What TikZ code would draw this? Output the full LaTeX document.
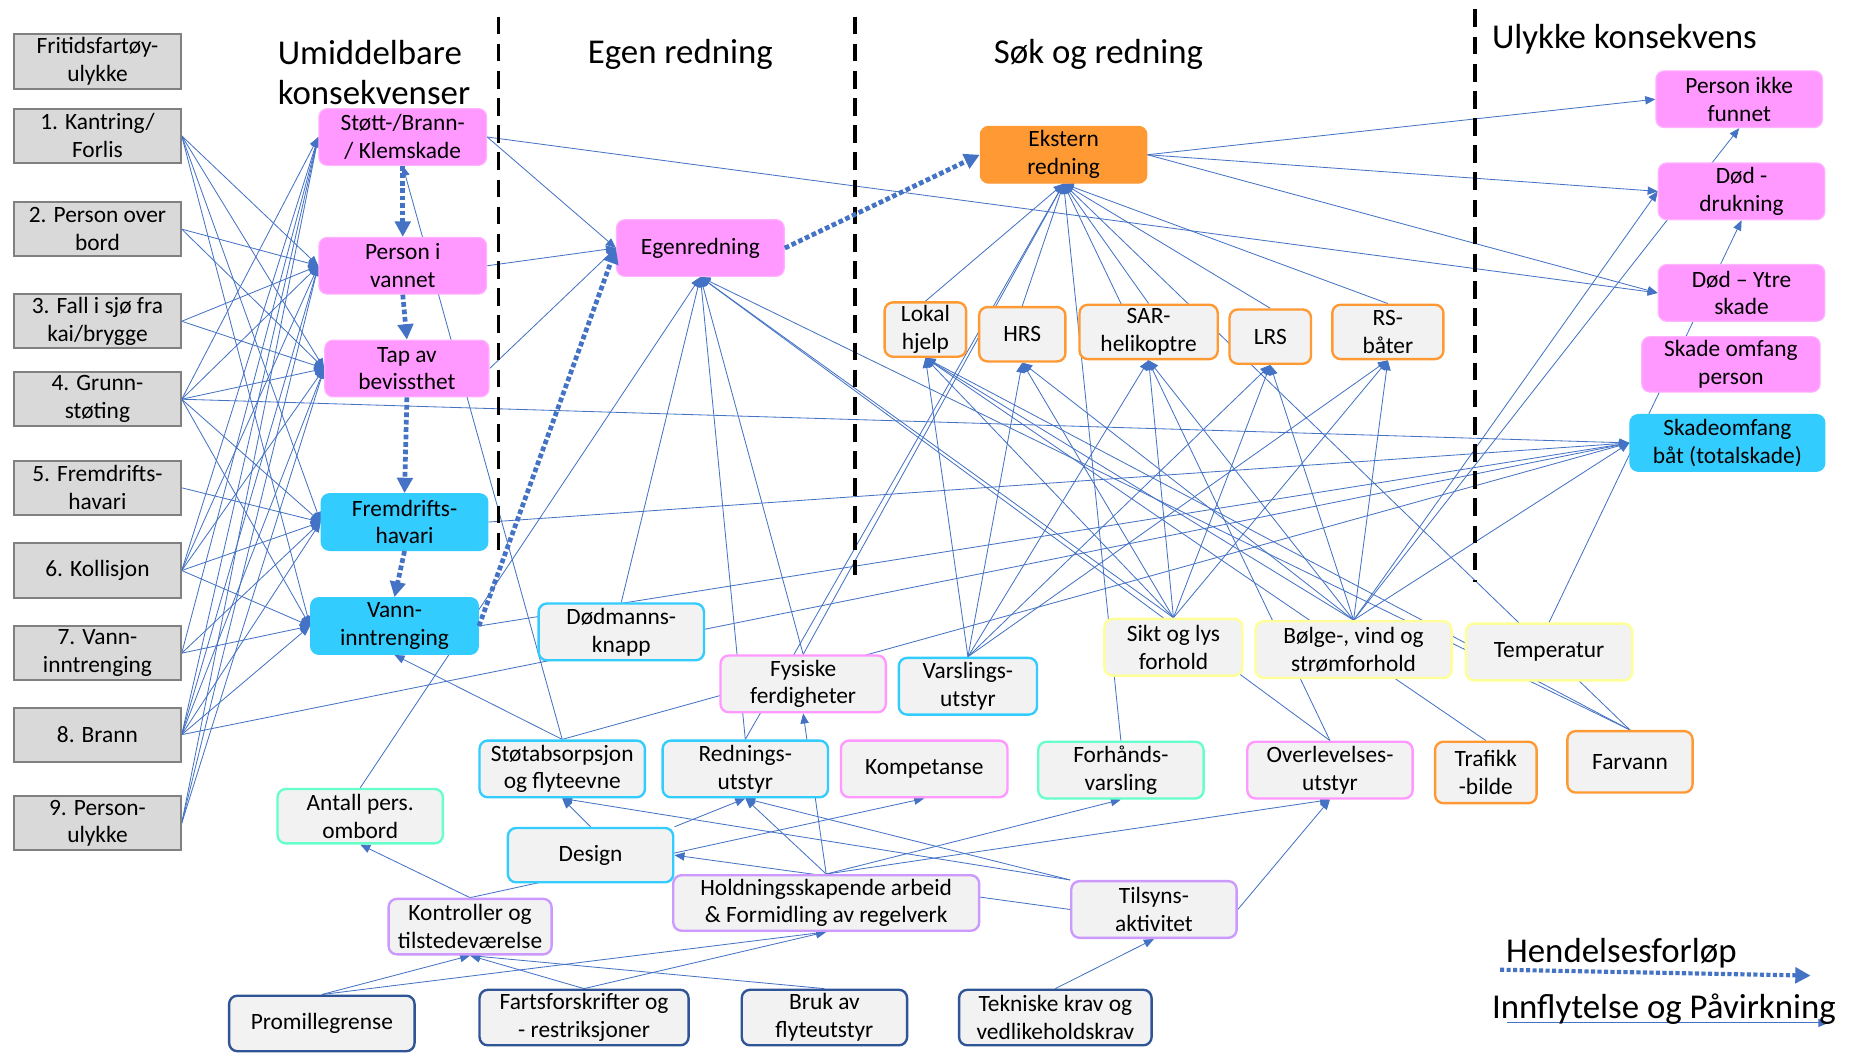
\documentclass[tikz,border=0pt]{standalone}
\usepackage{fontspec}
\setmainfont{Carlito}
\usetikzlibrary{arrows.meta}

\definecolor{linkc}{HTML}{4472C4}
\definecolor{pinkc}{HTML}{FF99FF}
\definecolor{cyanc}{HTML}{33CCFF}
\definecolor{orangec}{HTML}{FF9933}
\definecolor{liteg}{HTML}{F2F2F2}
\definecolor{greyf}{HTML}{D9D9D9}
\definecolor{greyd}{HTML}{808080}
\definecolor{yellowc}{HTML}{FFFF99}
\definecolor{greenc}{HTML}{66FFCC}
\definecolor{purplec}{HTML}{CC99FF}
\definecolor{navyc}{HTML}{2F5597}

\pgfdeclarelayer{back}
\pgfdeclarelayer{links}
\pgfsetlayers{back,links,main}

\begin{document}
\begin{tikzpicture}[x=1pt,y=-1pt,
  base/.style={rounded corners=7pt, align=center, inner sep=0pt, text=black,
    font=\fontsize{19.8}{23.5}\selectfont},
  grey/.style={base, rounded corners=0pt, fill=greyf, draw=greyd, line width=1.7pt},
  pinkbox/.style={base, fill=pinkc, draw=pinkc!75!white, line width=1pt},
  cyanbox/.style={base, fill=cyanc, draw=cyanc, line width=1pt},
  orangebox/.style={base, fill=orangec, draw=orangec, line width=1pt},
  lite/.style={base, fill=liteg, line width=2pt},
  obox/.style={lite, draw=orangec},
  cline/.style={lite, draw=cyanc},
  pline/.style={lite, draw=pinkc},
  yline/.style={lite, draw=yellowc},
  gline/.style={lite, draw=greenc},
  uline/.style={lite, draw=purplec},
  nline/.style={lite, draw=navyc},
  heading/.style={inner sep=0pt, font=\fontsize{29.5}{34}\selectfont},
  lk/.style={draw=linkc, line width=0.7pt, -{Triangle[length=8.5pt,width=7pt]}},
  ev/.style={draw=linkc, line width=4pt, dash pattern=on 4pt off 2.3pt,
    -{Triangle[length=13pt,width=13pt]}},
  sep/.style={draw=black, line width=3pt, dash pattern=on 15pt off 8pt}]

\useasboundingbox (0,0) rectangle (1568,892);
\begin{pgfonlayer}{back}
  \fill[white] (0,0) rectangle (1568,892);
\end{pgfonlayer}

% column headings
\node[heading, anchor=north west, align=left] (hd1) at (235,34) {Umiddelbare\\konsekvenser};
\node[heading, anchor=base] (hd2) at (576,54) {Egen redning};
\node[heading, anchor=base] (hd3) at (930,54) {Søk og redning};
\node[heading, anchor=base west] (hd4) at (1263,41) {Ulykke konsekvens};

% phase separators
\draw[sep] (422,14) -- (422,470);
\draw[sep] (724,14) -- (724,487);
\draw[sep] (1249,8) -- (1249,493);

% accident types
\node[grey, minimum width=141pt, minimum height=46pt] (f0) at (82.5,52) {Fritidsfartøy-\\ulykke};
\node[grey, minimum width=141pt, minimum height=46pt] (k1) at (82.5,115) {1. Kantring/\\Forlis};
\node[grey, minimum width=141pt, minimum height=46pt] (k2) at (82.5,194) {2. Person over\\bord};
\node[grey, minimum width=141pt, minimum height=46pt] (k3) at (82.5,272) {3. Fall i sjø fra\\kai/brygge};
\node[grey, minimum width=141pt, minimum height=46pt] (k4) at (82.5,338) {4. Grunn-\\støting};
\node[grey, minimum width=141pt, minimum height=46pt] (k5) at (82.5,413) {5. Fremdrifts-\\havari};
\node[grey, minimum width=141pt, minimum height=46pt] (k6) at (82.5,483) {6. Kollisjon};
\node[grey, minimum width=141pt, minimum height=46pt] (k7) at (82.5,553) {7. Vann-\\inntrenging};
\node[grey, minimum width=141pt, minimum height=46pt] (k8) at (82.5,622) {8. Brann};
\node[grey, minimum width=141pt, minimum height=46pt] (k9) at (82.5,697) {9. Person-\\ulykke};

% immediate consequences
\node[pinkbox, minimum width=142pt, minimum height=48pt] (s1) at (341,116) {Støtt-/Brann-\\/ Klemskade};
\node[pinkbox, minimum width=142pt, minimum height=48pt] (s2) at (341,225) {Person i\\vannet};
\node[pinkbox, minimum width=139pt, minimum height=48pt] (s3) at (344.5,312) {Tap av\\bevissthet};
\node[cyanbox, minimum width=141pt, minimum height=48pt] (s4) at (342.5,442) {Fremdrifts-\\havari};
\node[cyanbox, minimum width=142pt, minimum height=48pt] (s5) at (334,530) {Vann-\\inntrenging};

% rescue
\node[pinkbox, minimum width=142pt, minimum height=48pt] (eg) at (593,210) {Egenredning};
\node[orangebox, minimum width=141pt, minimum height=48pt] (ex) at (900.5,131) {Ekstern\\redning};
\node[obox, minimum width=69pt, minimum height=46pt] (lh) at (783.5,279) {Lokal\\hjelp};
\node[obox, minimum width=73pt, minimum height=46pt] (hrs) at (865.5,283) {HRS};
\node[obox, minimum width=117pt, minimum height=46pt] (sar) at (972.5,281) {SAR-\\helikoptre};
\node[obox, minimum width=69pt, minimum height=46pt] (lrs) at (1075.5,285) {LRS};
\node[obox, minimum width=94pt, minimum height=46pt] (rs) at (1175,281) {RS-\\båter};

% outcomes
\node[pinkbox, minimum width=141pt, minimum height=48pt] (pf) at (1472.5,84) {Person ikke\\funnet};
\node[pinkbox, minimum width=141pt, minimum height=48pt] (dd) at (1474.5,162) {Død -\\drukning};
\node[pinkbox, minimum width=141pt, minimum height=48pt] (dy) at (1474.5,248) {Død – Ytre\\skade};
\node[pinkbox, minimum width=151pt, minimum height=47pt] (sp) at (1465.5,308.5) {Skade omfang\\person};
\node[cyanbox, minimum width=165pt, minimum height=48pt] (sb) at (1462.5,375) {Skadeomfang\\båt (totalskade)};

% influencing factors
\node[cline, minimum width=140pt, minimum height=48pt] (dm) at (526,535) {Dødmanns-\\knapp};
\node[pline, minimum width=140pt, minimum height=48pt] (fy) at (680,579) {Fysiske\\ferdigheter};
\node[cline, minimum width=117pt, minimum height=48pt] (va) at (819.5,581) {Varslings-\\utstyr};
\node[yline, minimum width=117pt, minimum height=48pt] (si) at (993.5,548) {Sikt og lys\\forhold};
\node[yline, minimum width=166pt, minimum height=48pt] (bo) at (1146,550) {Bølge-, vind og\\strømforhold};
\node[yline, minimum width=141pt, minimum height=48pt] (te) at (1311.5,552) {Temperatur};
\node[cline, minimum width=140pt, minimum height=48pt] (st) at (476,651) {Støtabsorpsjon\\og flyteevne};
\node[cline, minimum width=140pt, minimum height=48pt] (re) at (631,651) {Rednings-\\utstyr};
\node[pline, minimum width=141pt, minimum height=48pt] (ko) at (782.5,651) {Kompetanse};
\node[gline, minimum width=140pt, minimum height=48pt] (fo) at (949,652) {Forhånds-\\varsling};
\node[pline, minimum width=140pt, minimum height=48pt] (ov) at (1126,652) {Overlevelses-\\utstyr};
\node[obox, minimum width=86pt, minimum height=52pt] (tr) at (1258,654) {Trafikk\\-bilde};
\node[obox, minimum width=106pt, minimum height=52pt] (fa) at (1380,645) {Farvann};
\node[gline, minimum width=140pt, minimum height=46pt] (an) at (305,691) {Antall pers.\\ombord};
\node[cline, minimum width=140pt, minimum height=46pt] (de) at (500,724) {Design};
\node[uline, minimum width=259pt, minimum height=47pt] (ho) at (699.5,764.5) {Holdningsskapende arbeid\\\& Formidling av regelverk};
\node[uline, minimum width=140pt, minimum height=48pt] (ti) at (977,770) {Tilsyns-\\aktivitet};
\node[uline, minimum width=138pt, minimum height=47pt] (kt) at (398,784.5) {Kontroller og\\tilstedeværelse};
\node[nline, minimum width=157pt, minimum height=47pt] (pr) at (272.5,866.5) {Promillegrense};
\node[nline, minimum width=177pt, minimum height=47pt] (fa2) at (494.5,861.5) {Fartsforskrifter og\\- restriksjoner};
\node[nline, minimum width=140pt, minimum height=47pt] (br) at (698,861.5) {Bruk av\\flyteutstyr};
\node[nline, minimum width=163pt, minimum height=47pt] (tk) at (893.5,861.5) {Tekniske krav og\\vedlikeholdskrav};

% influence links, drawn beneath the boxes
\begin{pgfonlayer}{links}
  \foreach \a/\b in {
    k1.east/s2.west, k1.east/s3.west, k1.east/s4.west, k1.east/s5.west,
    k2.east/s2.west, k2.east/s3.west,
    k3.east/s2.west, k3.east/s3.west,
    k4.east/s1.west, k4.east/s2.west, k4.east/s3.west, k4.east/s4.west, k4.east/s5.west, k4.east/sb.west,
    k5.east/s4.west,
    k6.east/s1.west, k6.east/s2.west, k6.east/s3.west, k6.east/s4.west, k6.east/s5.west,
    k7.east/s1.west, k7.east/s4.west, k7.east/s5.west,
    k8.east/s1.west, k8.east/s2.west, k8.east/s3.west, k8.east/s4.west, k8.east/s5.west, k8.east/sb.west,
    k9.east/s1.west, k9.east/s2.west, k9.east/s3.west,
    s1.east/eg.west, s2.east/eg.west, s3.east/eg.west, s1.east/dy.west,
    s4.east/sb.west, s5.east/sb.west,
    st.north/s1.south, st.north/s5.south, st.north/sb.west,
    dm.north/eg.south, an.north/eg.south, re.north/eg.south, fy.north/eg.south,
    si.north/eg.south, ov.north/eg.south, fa.north/eg.south,
    re.north/ex.south, fy.north/ex.south, fo.north/ex.south, ov.north/ex.south, fa.north/ex.south,
    lh.north/ex.south, hrs.north/ex.south, sar.north/ex.south, lrs.north/ex.south, rs.north/ex.south,
    tr.north/lh.south, fa.north/lh.south,
    ex.east/pf.west, ex.east/dd.west, ex.east/dy.west,
    bo.north/dd.west, bo.north/pf.south, bo.north/sb.west, te.north/dd.south,
    de.north/st.south, de.north east/re.south, ti.north west/st.south, ti.north west/re.south,
    ti.west/de.east, ho.north/re.south, ho.north/fy.south, ho.north/fo.south, ho.north/ov.south,
    ti.east/ov.south, kt.north/an.south, kt.north/ko.south,
    pr.north/kt.south, pr.north/ho.south, fa2.north/kt.south, fa2.north/ho.south,
    br.north/kt.south, tk.north/ti.south}
    {\draw[lk] (\a) -- (\b);}
  \foreach \s in {va,si,bo}{
    \foreach \t in {lh,hrs,sar,lrs,rs}{
      \draw[lk] (\s.north) -- (\t.south);}}
\end{pgfonlayer}

% course of events
\draw[ev] (s1.south) -- (s2.north);
\draw[ev] (s2.south) -- (s3.north);
\draw[ev] (s3.south) -- (s4.north);
\draw[ev] (s4.south) -- (s5.north);
\draw[ev] (s5.east) -- (eg.west);
\draw[ev] (eg.east) -- (ex.west);

% legend
\coordinate (h1) at (1270,821);
\coordinate (h2) at (1533,826);
\draw[ev, line width=3.5pt, dash pattern=on 3.5pt off 2pt] (h1) -- (h2);
\node[heading, anchor=base west] (hl) at (1275,815) {Hendelsesforløp};
\coordinate (i1) at (1276,866);
\coordinate (i2) at (1548,866);
\draw[lk] (i1) -- (i2);
\node[heading, anchor=base west] (il) at (1263,862) {Innflytelse og Påvirkning};
\end{tikzpicture}
\end{document}
